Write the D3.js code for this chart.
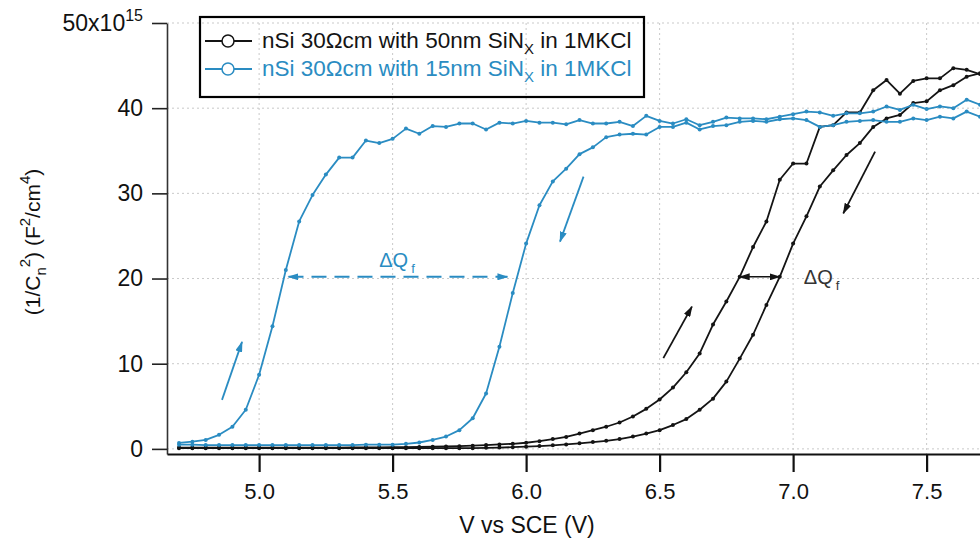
<!DOCTYPE html>
<html>
<head>
<meta charset="utf-8">
<script src="https://cdn.jsdelivr.net/npm/d3@7"></script>
<style>
  html, body { margin: 0; padding: 0; background: #fff; }
  svg text { font-family: "Liberation Sans", Arial, Helvetica, sans-serif; }
</style>
</head>
<body>
<svg id="chart" width="980" height="544"></svg>
<script>
// Applied potential vs. SCE (V), one value per measured step
const voltage = [
  4.70, 4.75, 4.80, 4.85, 4.90, 4.95, 5.00, 5.05, 5.10, 5.15,
  5.20, 5.25, 5.30, 5.35, 5.40, 5.45, 5.50, 5.55, 5.60, 5.65,
  5.70, 5.75, 5.80, 5.85, 5.90, 5.95, 6.00, 6.05, 6.10, 6.15,
  6.20, 6.25, 6.30, 6.35, 6.40, 6.45, 6.50, 6.55, 6.60, 6.65,
  6.70, 6.75, 6.80, 6.85, 6.90, 6.95, 7.00, 7.05, 7.10, 7.15,
  7.20, 7.25, 7.30, 7.35, 7.40, 7.45, 7.50, 7.55, 7.60, 7.65,
  7.70
];

// 1/C^2 in units of 1e15 F^-2 cm^4 — 15 nm SiNx, forward (increasing V) sweep
const sin15Forward = [
  0.7, 0.85, 1.05, 1.65, 2.6, 4.6, 8.7, 14.4, 21.0, 26.7,
  29.8, 32.2, 34.2, 34.2, 36.2, 35.9, 36.4, 37.6, 37.0, 37.9,
  37.8, 38.2, 38.2, 37.5, 38.3, 38.2, 38.5, 38.3, 38.3, 38.1,
  38.6, 38.2, 38.2, 38.4, 37.9, 39.1, 38.5, 38.2, 38.7, 38.0,
  38.4, 38.9, 38.8, 38.8, 38.7, 39.0, 39.3, 39.6, 39.5, 39.1,
  39.4, 39.4, 39.6, 40.2, 39.8, 40.4, 39.9, 40.2, 40.0, 41.0,
  40.4
];

// 15 nm SiNx, reverse (decreasing V) sweep
const sin15Reverse = [
  0.5, 0.5, 0.45, 0.45, 0.45, 0.45, 0.45, 0.45, 0.45, 0.45,
  0.45, 0.45, 0.45, 0.45, 0.5, 0.5, 0.5, 0.6, 0.75, 1.05,
  1.45, 2.2, 3.6, 6.5, 12.0, 18.3, 24.1, 28.6, 31.4, 32.9,
  34.6, 35.4, 36.6, 36.9, 37.0, 36.9, 37.8, 37.8, 38.3, 37.5,
  37.9, 38.0, 38.4, 38.5, 38.4, 38.7, 38.8, 38.6, 37.8, 38.0,
  38.4, 38.5, 38.6, 38.4, 38.4, 38.8, 38.6, 39.0, 38.8, 39.6,
  39.0
];

// 50 nm SiNx, forward sweep
const sin50Forward = [
  0.15, 0.15, 0.15, 0.15, 0.15, 0.15, 0.15, 0.15, 0.15, 0.15,
  0.15, 0.15, 0.15, 0.18, 0.18, 0.18, 0.2, 0.2, 0.22, 0.25,
  0.28, 0.32, 0.38, 0.45, 0.52, 0.6, 0.72, 0.9, 1.15, 1.4,
  1.8, 2.2, 2.6, 3.1, 3.8, 4.7, 5.8, 7.2, 9.0, 11.2,
  14.6, 17.3, 20.2, 23.7, 26.7, 31.6, 33.5, 33.5, 37.8, 38.0,
  39.5, 39.5, 42.1, 43.3, 41.7, 43.2, 43.5, 43.5, 44.7, 44.5,
  44.0
];

// 50 nm SiNx, reverse sweep
const sin50Reverse = [
  0.08, 0.08, 0.08, 0.08, 0.08, 0.08, 0.08, 0.08, 0.08, 0.08,
  0.08, 0.08, 0.08, 0.08, 0.08, 0.08, 0.08, 0.08, 0.08, 0.08,
  0.08, 0.08, 0.08, 0.12, 0.16, 0.2, 0.26, 0.33, 0.42, 0.52,
  0.65, 0.8, 0.95, 1.15, 1.45, 1.8, 2.2, 2.8, 3.5, 4.6,
  5.9, 7.9, 10.6, 13.4, 16.9, 20.2, 24.1, 27.3, 30.8, 32.7,
  34.5, 35.9, 37.8, 38.8, 39.2, 40.6, 40.8, 42.1, 42.7, 43.7,
  44.1
];

const xTicks = [5.0, 5.5, 6.0, 6.5, 7.0, 7.5];
const yTicks = [0, 10, 20, 30, 40, 50];

const legendLabels = [
  { pre: "nSi 30\u03A9cm with 50nm SiN", sub: "X", post: " in 1MKCl" },
  { pre: "nSi 30\u03A9cm with 15nm SiN", sub: "X", post: " in 1MKCl" }
];

const BLACK = "#141414";
const BLUE = "#2a8cc2";

const svg = d3.select("#chart");
svg.append("rect").attr("width", 980).attr("height", 544).attr("fill", "#fff");

// plot frame
const plotLeft = 167, plotTop = 23, plotBottom = 454, plotRight = 980;
const x = d3.scaleLinear().domain([4.655, 7.8]).range([plotLeft, plotLeft + (7.8 - 4.655) * 267]);
const y = d3.scaleLinear().domain([-0.6, 50]).range([plotBottom, plotTop]);

// arrow heads
const defs = svg.append("defs");
function head(id, color, w, h) {
  defs.append("marker")
    .attr("id", id)
    .attr("markerUnits", "userSpaceOnUse")
    .attr("markerWidth", w).attr("markerHeight", h)
    .attr("refX", w - 1).attr("refY", h / 2)
    .attr("orient", "auto-start-reverse")
    .append("path")
    .attr("d", `M0,0 L${w},${h / 2} L0,${h} Z`)
    .attr("fill", color);
}
head("hBlue", BLUE, 11, 7);
head("hBlack", BLACK, 11, 7);

// dotted grid
const grid = svg.append("g").attr("stroke", "#c9c9c9").attr("stroke-width", 1).attr("stroke-dasharray", "2,3");
grid.selectAll("line.gx").data(xTicks).join("line")
  .attr("x1", d => x(d)).attr("x2", d => x(d))
  .attr("y1", plotTop).attr("y2", plotBottom);
grid.selectAll("line.gy").data(yTicks).join("line")
  .attr("x1", plotLeft).attr("x2", plotRight)
  .attr("y1", d => y(d)).attr("y2", d => y(d));

// curves
const line = d3.line().x(d => x(d[0])).y(d => y(d[1]));
const series = [
  { vals: sin50Forward, color: BLACK, w: 1.8 },
  { vals: sin50Reverse, color: BLACK, w: 1.8 },
  { vals: sin15Forward, color: BLUE, w: 1.8 },
  { vals: sin15Reverse, color: BLUE, w: 1.8 }
];
series.forEach(s => {
  const pts = voltage.map((v, i) => [v, s.vals[i]]);
  svg.append("path").datum(pts)
    .attr("d", line).attr("fill", "none")
    .attr("stroke", s.color).attr("stroke-width", s.w)
    .attr("stroke-linejoin", "round");
  svg.append("g").selectAll("circle").data(pts).join("circle")
    .attr("cx", d => x(d[0])).attr("cy", d => y(d[1]))
    .attr("r", 2).attr("fill", s.color);
});

// sweep direction arrows
const arrows = [
  { from: [4.861, 5.75], to: [4.936, 12.56], color: BLUE, m: "hBlue" },
  { from: [6.215, 31.96], to: [6.127, 24.33], color: BLUE, m: "hBlue" },
  { from: [6.514, 10.65], to: [6.621, 16.7], color: BLACK, m: "hBlack" },
  { from: [7.307, 34.9], to: [7.188, 27.66], color: BLACK, m: "hBlack" }
];
arrows.forEach(a => {
  svg.append("line")
    .attr("x1", x(a.from[0])).attr("y1", y(a.from[1]))
    .attr("x2", x(a.to[0])).attr("y2", y(a.to[1]))
    .attr("stroke", a.color).attr("stroke-width", 1.8)
    .attr("marker-end", `url(#${a.m})`);
});

// flat-band shift markers
svg.append("line")
  .attr("x1", x(5.11)).attr("x2", x(5.93)).attr("y1", y(20.2)).attr("y2", y(20.2))
  .attr("stroke", BLUE).attr("stroke-width", 2).attr("stroke-dasharray", "15,8")
  .attr("marker-start", "url(#hBlue)").attr("marker-end", "url(#hBlue)");
svg.append("line")
  .attr("x1", x(6.80)).attr("x2", x(6.95)).attr("y1", y(20.2)).attr("y2", y(20.2))
  .attr("stroke", BLACK).attr("stroke-width", 1.5)
  .attr("marker-start", "url(#hBlack)").attr("marker-end", "url(#hBlack)");

function dqLabel(v, val, color) {
  const t = svg.append("text").attr("x", x(v)).attr("y", y(val))
    .attr("fill", color).attr("font-size", 20);
  t.append("tspan").text("\u0394Q");
  t.append("tspan").attr("dx", 3).attr("dy", 6).attr("font-size", 13).text("f");
}
dqLabel(5.45, 21.3, BLUE);
dqLabel(7.04, 19.4, "#333");

// y axis
const yAxis = svg.append("g").attr("transform", `translate(${plotLeft},0)`)
  .call(d3.axisLeft(y).tickValues(yTicks).tickSize(15).tickSizeOuter(0).tickPadding(9)
    .tickFormat(d => d === 50 ? "" : d));
yAxis.select(".domain").attr("stroke", "#333").attr("stroke-width", 1.6);
yAxis.selectAll(".tick line").attr("stroke", "#222").attr("stroke-width", 1.6);
yAxis.selectAll(".tick text").attr("font-size", 23).attr("fill", "#111")
  .attr("font-family", "'Liberation Sans', Arial, sans-serif");
// exponent label on the top tick
const topLbl = yAxis.selectAll(".tick").filter(d => d === 50).select("text");
topLbl.append("tspan").text("50x10");
topLbl.append("tspan").attr("dy", -10).attr("font-size", 16).text("15");

// x axis
const xAxis = svg.append("g").attr("transform", `translate(0,${plotBottom})`)
  .call(d3.axisBottom(x).tickValues(xTicks).tickSize(18).tickSizeOuter(0).tickPadding(11)
    .tickFormat(d3.format(".1f")));
xAxis.select(".domain").attr("stroke", "#111").attr("stroke-width", 2.2);
xAxis.selectAll(".tick line").attr("stroke", "#111").attr("stroke-width", 2.2);
xAxis.selectAll(".tick text").attr("font-size", 22).attr("fill", "#111")
  .attr("font-family", "'Liberation Sans', Arial, sans-serif");

// axis titles
svg.append("text").attr("x", 527).attr("y", 533).attr("text-anchor", "middle")
  .attr("font-size", 23).attr("fill", "#111").text("V vs SCE (V)");

const yt = svg.append("text").attr("transform", "translate(40,242) rotate(-90)")
  .attr("text-anchor", "middle").attr("font-size", 21).attr("fill", "#111");
yt.append("tspan").text("(1/C");
yt.append("tspan").attr("dy", 6).attr("font-size", 15).text("n");
yt.append("tspan").attr("dy", -16).attr("font-size", 15).text("2");
yt.append("tspan").attr("dy", 10).text(") (F");
yt.append("tspan").attr("dy", -10).attr("font-size", 15).text("2");
yt.append("tspan").attr("dy", 10).text("/cm");
yt.append("tspan").attr("dy", -10).attr("font-size", 15).text("4");
yt.append("tspan").attr("dy", 10).text(")");

// legend
const lg = svg.append("g");
lg.append("rect").attr("x", 200).attr("y", 17).attr("width", 444).attr("height", 80)
  .attr("fill", "none").attr("stroke", "#000").attr("stroke-width", 2.2);
[BLACK, BLUE].forEach((c, i) => {
  const cy = 41 + i * 28;
  lg.append("line").attr("x1", 205).attr("x2", 252).attr("y1", cy).attr("y2", cy)
    .attr("stroke", c).attr("stroke-width", 1.8);
  lg.append("circle").attr("cx", 228).attr("cy", cy).attr("r", 6)
    .attr("fill", "#fff").attr("stroke", c).attr("stroke-width", 1.5);
  const t = lg.append("text").attr("x", 262).attr("y", cy + 7)
    .attr("font-size", 22.5).attr("fill", c);
  t.append("tspan").text(legendLabels[i].pre);
  t.append("tspan").attr("dy", 6).attr("font-size", 15).text(legendLabels[i].sub);
  t.append("tspan").attr("dy", -6).text(legendLabels[i].post);
});
</script>
</body>
</html>
